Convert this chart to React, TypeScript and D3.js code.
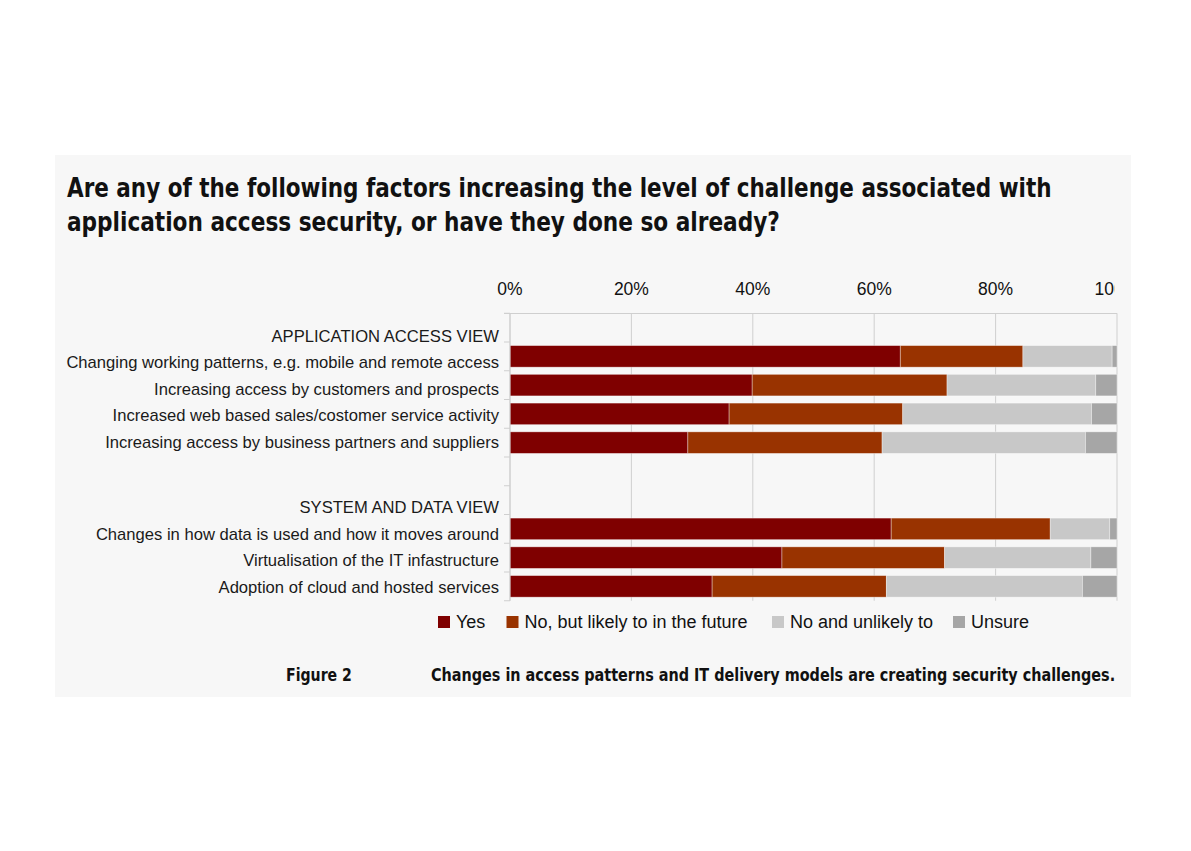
import React from "react";
import * as d3 from "d3";

const rowKeys = ["hdrApp", "r1", "r2", "r3", "r4", "gap", "hdrSys", "r5", "r6", "r7"];
const rowLabels = [
  "APPLICATION ACCESS VIEW",
  "Changing working patterns, e.g. mobile and remote access",
  "Increasing access by customers and prospects",
  "Increased web based sales/costomer service activity",
  "Increasing access by business partners and suppliers",
  "",
  "SYSTEM AND DATA VIEW",
  "Changes in how data is used and how it moves around",
  "Virtualisation of the IT infastructure",
  "Adoption of cloud and hosted services",
];
const rowGroup = [0, 0, 0, 0, 0, -1, 1, 1, 1, 1];

const seriesNames = ["Yes", "No, but likely to in the future", "No and unlikely to", "Unsure"];
const seriesColors = ["#7f0000", "#993300", "#c8c8c8", "#a6a6a6"];
const yesValues = [null, 64.3, 39.9, 36.1, 29.3, null, null, 62.8, 44.8, 33.3];
const noLikelyValues = [null, 20.2, 32.1, 28.6, 32.0, null, null, 26.2, 26.8, 28.7];
const noUnlikelyValues = [null, 14.7, 24.5, 31.1, 33.5, null, null, 9.8, 24.1, 32.3];
const unsureValues = [null, 0.8, 3.5, 4.2, 5.2, null, null, 1.2, 4.3, 5.7];
const xTicks = [0, 20, 40, 60, 80, 100];

const titleLines = [
  "Are any of the following factors increasing the level of challenge associated with",
  "application access security, or have they done so already?",
];
const figureLabel = "Figure 2";
const caption = "Changes in access patterns and IT delivery models are creating security challenges.";

const condensed = "'Liberation Sans Narrow', 'DejaVu Sans Condensed', 'Arial Narrow', sans-serif";
const sans = "'Liberation Sans', Arial, Helvetica, sans-serif";

// Text horizontally squeezed to a target width (condensed look), measured after layout
function FitText(props: {
  x: number;
  y: number;
  width: number;
  fontSize: number;
  children: string;
}) {
  const ref = React.useRef<SVGTextElement>(null);
  const [sx, setSx] = React.useState(1);
  React.useLayoutEffect(() => {
    if (ref.current) {
      const w = ref.current.getComputedTextLength();
      if (w > 0) setSx(props.width / w);
    }
  }, [props.width, props.children]);
  return (
    <text
      ref={ref}
      x={0}
      y={0}
      transform={`translate(${props.x},${props.y}) scale(${sx},1)`}
      fontFamily={condensed}
      fontWeight="bold"
      fontSize={props.fontSize}
      fill="#111"
    >
      {props.children}
    </text>
  );
}

export default function App() {
  const W = 1191;
  const H = 851;
  const x = d3.scaleLinear().domain([0, 100]).range([510, 1117]);
  const y = d3.scaleBand().domain(rowKeys).range([313.25, 600.75]).padding(0);
  const bw = y.bandwidth();
  const barH = bw * 0.75;

  const table = rowKeys.map((k, i) => ({
    key: k,
    s0: yesValues[i],
    s1: noLikelyValues[i],
    s2: noUnlikelyValues[i],
    s3: unsureValues[i],
  }));
  const dataRows = table.filter((d) => d.s0 != null);
  const stack = d3.stack<any>().keys(["s0", "s1", "s2", "s3"]);
  const stacked = stack(dataRows as any);

  // label positions (slightly compressed within each group, as in the source)
  const groupCenters: Record<number, number> = {};
  [0, 1].forEach((g) => {
    const idx = rowKeys.map((_, i) => i).filter((i) => rowGroup[i] === g);
    const c = d3.mean(idx, (i) => (y(rowKeys[i]) as number) + bw / 2) as number;
    groupCenters[g] = c;
  });
  const labelY = (i: number) => {
    const c = (y(rowKeys[i]) as number) + bw / 2;
    const gc = groupCenters[rowGroup[i]];
    return gc + (c - gc) * 0.92 + 4;
  };

  const boundaries = d3.range(rowKeys.length + 1).map((k) => 313.25 + k * y.step());
  const legendX = [438, 506.5, 772, 953];

  return (
    <svg
      width={W}
      height={H}
      style={{ position: "absolute", left: 0, top: 0, background: "#ffffff" }}
    >
      <defs>
        <clipPath id="axisClip">
          <rect x={0} y={0} width={1114.5} height={H} />
        </clipPath>
      </defs>
      <rect x={55} y={155} width={1076} height={542} fill="#f7f7f7" />

      {titleLines.map((t, i) => (
        <FitText key={i} x={67} y={197 + i * 34} width={i === 0 ? 985 : 713} fontSize={26}>
          {t}
        </FitText>
      ))}

      {/* gridlines */}
      {xTicks.map((t) => (
        <line key={t} x1={x(t)} x2={x(t)} y1={313.25} y2={600.75} stroke="#cfcfcf" strokeWidth={1} />
      ))}
      <line x1={504} x2={1117} y1={313.5} y2={313.5} stroke="#cfcfcf" strokeWidth={1} />
      {boundaries.map((b, i) => (
        <line key={i} x1={504} x2={510} y1={b} y2={b} stroke="#cfcfcf" strokeWidth={1} />
      ))}

      {/* x axis labels */}
      <g clipPath="url(#axisClip)">
        {xTicks.map((t) => (
          <text key={t} x={x(t)} y={295} textAnchor="middle" fontFamily={sans} fontSize={17.5} fill="#111">
            {t}%
          </text>
        ))}
      </g>

      {/* bars */}
      {stacked.map((s, si) => (
        <g key={s.key} fill={seriesColors[si]}>
          {s.map((d: any) => (
            <rect
              key={d.data.key}
              x={x(d[0])}
              y={(y(d.data.key) as number) + (bw - barH) / 2}
              width={x(d[1]) - x(d[0])}
              height={barH}
              stroke="rgba(255,255,255,0.45)"
              strokeWidth={0.8}
            />
          ))}
        </g>
      ))}
      <line x1={510} x2={510} y1={313.25} y2={600.75} stroke="#cfcfcf" strokeWidth={1} />

      {/* category labels */}
      {rowLabels.map((l, i) =>
        l ? (
          <text
            key={rowKeys[i]}
            x={499}
            y={labelY(i)}
            dy="0.35em"
            textAnchor="end"
            fontFamily={sans}
            fontSize={16.6}
            fill="#1a1a1a"
          >
            {l}
          </text>
        ) : null
      )}

      {/* legend */}
      {seriesNames.map((n, i) => (
        <g key={n} transform={`translate(${legendX[i]},616)`}>
          <rect x={0} y={0} width={12} height={12} fill={seriesColors[i]} />
          <text x={18} y={6} dy="0.36em" fontFamily={sans} fontSize={18} fill="#111">
            {n}
          </text>
        </g>
      ))}

      {/* footer */}
      <FitText x={286} y={681} width={66} fontSize={18}>
        {figureLabel}
      </FitText>
      <FitText x={431} y={681} width={685} fontSize={18}>
        {caption}
      </FitText>
    </svg>
  );
}
